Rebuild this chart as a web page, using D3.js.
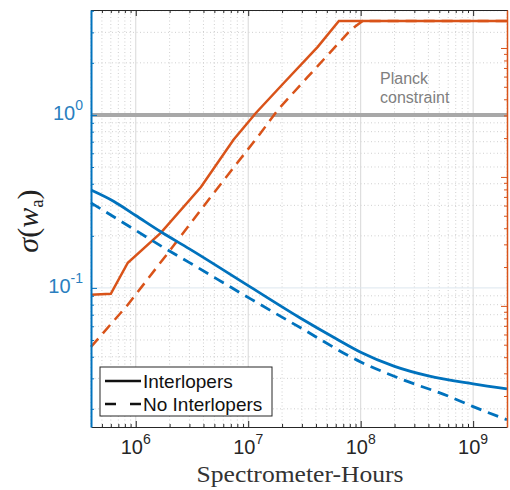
<!DOCTYPE html>
<html>
<head>
<meta charset="utf-8">
<script src="https://cdn.jsdelivr.net/npm/d3@7/dist/d3.min.js"></script>
<style>
  html, body { margin: 0; padding: 0; background: #fff; }
  svg { display: block; }
</style>
</head>
<body>
<svg id="chart" width="510" height="490"></svg>
<script>
// Spectrometer-hours on the x axis
const blueHours = [4e5, 6.4e5, 1e6, 1.67e6, 3e6, 1.05e7, 2.9e7, 6e7, 1e8, 2e8, 4e8, 1e9, 2e9];
// sigma(w_a) with interlopers (left axis)
const sigmaWaInterlopers = [0.368, 0.316, 0.262, 0.211, 0.168, 0.101, 0.067, 0.051, 0.0425, 0.0352, 0.031, 0.0279, 0.0261];

const blueDashHours = [4e5, 1e6, 1.67e6, 3e6, 1.05e7, 3e7, 1e8, 2.27e8, 6.3e8, 1e9, 2e9];
// sigma(w_a) without interlopers (left axis)
const sigmaWaClean = [0.310, 0.215, 0.175, 0.140, 0.0864, 0.0582, 0.0373, 0.0298, 0.0234, 0.0206, 0.0173];

const orangeHours = [4e5, 6e5, 8.5e5, 1.67e6, 3.8e6, 7.4e6, 1.17e7, 2.07e7, 4.15e7, 6.4e7, 2e9];
// second parameter with interlopers (right axis)
const sigmaRightInterlopers = [0.0122, 0.0124, 0.0216, 0.0368, 0.0836, 0.194, 0.313, 0.535, 1.02, 1.62, 1.62];

const orangeDashHours = [4e5, 8.5e5, 2.13e6, 4.64e6, 1.29e7, 1.83e7, 3.38e7, 8.15e7, 1.04e8, 2e9];
// second parameter without interlopers (right axis)
const sigmaRightClean = [0.00481, 0.0102, 0.0287, 0.070, 0.219, 0.331, 0.596, 1.38, 1.62, 1.62];

const planckLimit = 1;
const xMajorTicks = [1e6, 1e7, 1e8, 1e9];
const xTickExponents = ["6", "7", "8", "9"];
const yLeftMajorTicks = [1, 0.1];
const yLeftTickExponents = ["0", "-1"];
const legendLabels = ["Interlopers", "No Interlopers"];

const BLUE = "#0072BD", ORANGE = "#D95319", AXIS = "#262626";
const SANS = "'Liberation Sans', Arial, sans-serif";
const SERIF = "'Liberation Serif', 'DejaVu Serif', serif";

const svg = d3.select("#chart");
const L = 91, R = 507, T = 10, B = 427;

const x = d3.scaleLog().domain([4e5, 2e9]).range([L, R]);
const yL = d3.scaleLog().domain([0.0157, 4.04]).range([B, T]);
const yR = d3.scaleLog().domain([0.00115, 1.97]).range([B, T]);

// minor tick values (2..9 per decade) within a domain
function minorTicks(scale) {
  const [a, b] = scale.domain();
  const out = [];
  for (let e = Math.floor(Math.log10(a)); e <= Math.ceil(Math.log10(b)); e++) {
    for (let k = 2; k <= 9; k++) {
      const v = k * Math.pow(10, e);
      if (v >= a && v <= b) out.push(v);
    }
  }
  return out;
}
const xMinor = minorTicks(x);
const yLMinor = minorTicks(yL);
const yRMinor = minorTicks(yR);
const yRMajor = [1, 0.1, 0.01];

// grid
const grid = svg.append("g");
grid.selectAll(".vmin").data(xMinor).join("line")
  .attr("x1", d => x(d)).attr("x2", d => x(d)).attr("y1", T).attr("y2", B)
  .attr("stroke", "#c4c4c4").attr("stroke-width", 0.8).attr("stroke-dasharray", "1,2.5");
grid.selectAll(".hmin").data(yLMinor).join("line")
  .attr("x1", L).attr("x2", R).attr("y1", d => yL(d)).attr("y2", d => yL(d))
  .attr("stroke", "#c4c4c4").attr("stroke-width", 0.8).attr("stroke-dasharray", "1,2.5");
grid.selectAll(".vmaj").data(xMajorTicks).join("line")
  .attr("x1", d => x(d)).attr("x2", d => x(d)).attr("y1", T).attr("y2", B)
  .attr("stroke", "#d8d8d8").attr("stroke-width", 1);
grid.selectAll(".hmaj").data(yLeftMajorTicks).join("line")
  .attr("x1", L).attr("x2", R).attr("y1", d => yL(d)).attr("y2", d => yL(d))
  .attr("stroke", "#dce6ee").attr("stroke-width", 1);

// Planck constraint
svg.append("line")
  .attr("x1", L).attr("x2", R).attr("y1", yL(planckLimit)).attr("y2", yL(planckLimit))
  .attr("stroke", "#a8a8a8").attr("stroke-width", 4);
const planck = svg.append("text").attr("font-family", SANS).attr("font-size", 16).attr("fill", "#7f7f7f");
planck.append("tspan").attr("x", 380).attr("y", 84).text("Planck");
planck.append("tspan").attr("x", 380).attr("y", 103).text("constraint");

// curves
const plot = svg.append("g");
function drawLine(xs, ys, yScale, color, dashed, curve, width) {
  const pts = xs.map((h, i) => [h, ys[i]]);
  plot.append("path").datum(pts)
    .attr("fill", "none").attr("stroke", color).attr("stroke-width", width)
    .attr("stroke-dasharray", dashed ? "11,7" : null)
    .attr("d", d3.line().x(d => x(d[0])).y(d => yScale(d[1])).curve(curve));
}
drawLine(orangeDashHours, sigmaRightClean, yR, ORANGE, true, d3.curveLinear, 2.5);
drawLine(orangeHours, sigmaRightInterlopers, yR, ORANGE, false, d3.curveLinear, 2.5);
drawLine(blueDashHours, sigmaWaClean, yL, BLUE, true, d3.curveMonotoneX, 2.8);
drawLine(blueHours, sigmaWaInterlopers, yL, BLUE, false, d3.curveMonotoneX, 2.8);

// axes
function styleAxis(g, color, width) {
  g.select(".domain").attr("stroke", color).attr("stroke-width", width);
  g.selectAll(".tick line").attr("stroke", color);
  g.selectAll(".tick text").remove();
}
svg.append("g").attr("transform", `translate(0,${B})`)
  .call(d3.axisBottom(x).tickValues(xMajorTicks).tickSize(-6).tickSizeOuter(0).tickFormat(""))
  .call(g => styleAxis(g, AXIS, 1));
svg.append("g").attr("transform", `translate(0,${B})`)
  .call(d3.axisBottom(x).tickValues(xMinor).tickSize(-3).tickSizeOuter(0).tickFormat(""))
  .call(g => { g.select(".domain").remove(); g.selectAll(".tick line").attr("stroke", AXIS); });
svg.append("g").attr("transform", `translate(0,${T})`)
  .call(d3.axisTop(x).tickValues(xMajorTicks).tickSize(-6).tickSizeOuter(0).tickFormat(""))
  .call(g => styleAxis(g, AXIS, 1));
svg.append("g").attr("transform", `translate(0,${T})`)
  .call(d3.axisTop(x).tickValues(xMinor).tickSize(-3).tickSizeOuter(0).tickFormat(""))
  .call(g => { g.select(".domain").remove(); g.selectAll(".tick line").attr("stroke", AXIS); });

svg.append("g").attr("transform", `translate(${L},0)`)
  .call(d3.axisLeft(yL).tickValues(yLeftMajorTicks).tickSize(-6).tickSizeOuter(0).tickFormat(""))
  .call(g => styleAxis(g, BLUE, 2));
svg.append("g").attr("transform", `translate(${L},0)`)
  .call(d3.axisLeft(yL).tickValues(yLMinor).tickSize(-3).tickSizeOuter(0).tickFormat(""))
  .call(g => { g.select(".domain").remove(); g.selectAll(".tick line").attr("stroke", BLUE); });
svg.append("g").attr("transform", `translate(${R},0)`)
  .call(d3.axisRight(yR).tickValues(yRMajor).tickSize(-6).tickSizeOuter(0).tickFormat(""))
  .call(g => styleAxis(g, ORANGE, 1.5));
svg.append("g").attr("transform", `translate(${R},0)`)
  .call(d3.axisRight(yR).tickValues(yRMinor).tickSize(-3).tickSizeOuter(0).tickFormat(""))
  .call(g => { g.select(".domain").remove(); g.selectAll(".tick line").attr("stroke", ORANGE); });

// tick labels with superscript exponents
const xl = svg.append("g").attr("font-family", SANS).attr("fill", AXIS);
xl.selectAll("text").data(xMajorTicks).join("text")
  .attr("x", d => x(d)).attr("y", 454).attr("text-anchor", "middle").attr("font-size", 20)
  .each(function (d, i) {
    const t = d3.select(this);
    t.append("tspan").text("10");
    t.append("tspan").attr("font-size", 14).attr("dy", -10).text(xTickExponents[i]);
  });
const yl = svg.append("g").attr("font-family", SANS).attr("fill", "#2a7fbf");
yl.selectAll("text").data(yLeftMajorTicks).join("text")
  .attr("x", 83).attr("y", d => yL(d) + 5).attr("text-anchor", "end").attr("font-size", 20)
  .each(function (d, i) {
    const t = d3.select(this);
    t.append("tspan").text("10");
    t.append("tspan").attr("font-size", 14).attr("dy", -10).text(yLeftTickExponents[i]);
  });

// axis titles
svg.append("text").attr("x", (L + R) / 2 + 1).attr("y", 482).attr("text-anchor", "middle")
  .attr("font-family", SERIF).attr("font-size", 23).attr("fill", "#333")
  .attr("textLength", 207).attr("lengthAdjust", "spacingAndGlyphs").text("Spectrometer-Hours");
const yt = svg.append("text").attr("transform", "translate(38,221) rotate(-90)")
  .attr("text-anchor", "middle").attr("font-family", SERIF).attr("font-size", 30).attr("fill", "#222");
yt.append("tspan").attr("font-style", "italic").text("σ");
yt.append("tspan").text("(");
yt.append("tspan").attr("font-style", "italic").text("w");
yt.append("tspan").attr("font-size", 19).attr("dy", 5).text("a");
yt.append("tspan").attr("dy", -5).text(")");

// legend
const lg = svg.append("g");
lg.append("rect").attr("x", 100).attr("y", 367).attr("width", 172).attr("height", 49)
  .attr("fill", "#fff").attr("stroke", AXIS).attr("stroke-width", 1);
const rows = lg.selectAll("g").data(legendLabels).join("g")
  .attr("transform", (d, i) => `translate(0,${381 + i * 23})`);
rows.append("line").attr("x1", 105).attr("x2", 141).attr("y1", 0).attr("y2", 0)
  .attr("stroke", "#111").attr("stroke-width", 2.5)
  .attr("stroke-dasharray", (d, i) => i ? "11,14" : null);
rows.append("text").attr("x", 143).attr("y", 7).attr("font-family", SANS).attr("font-size", 19)
  .attr("fill", "#111").text(d => d);
</script>
</body>
</html>
